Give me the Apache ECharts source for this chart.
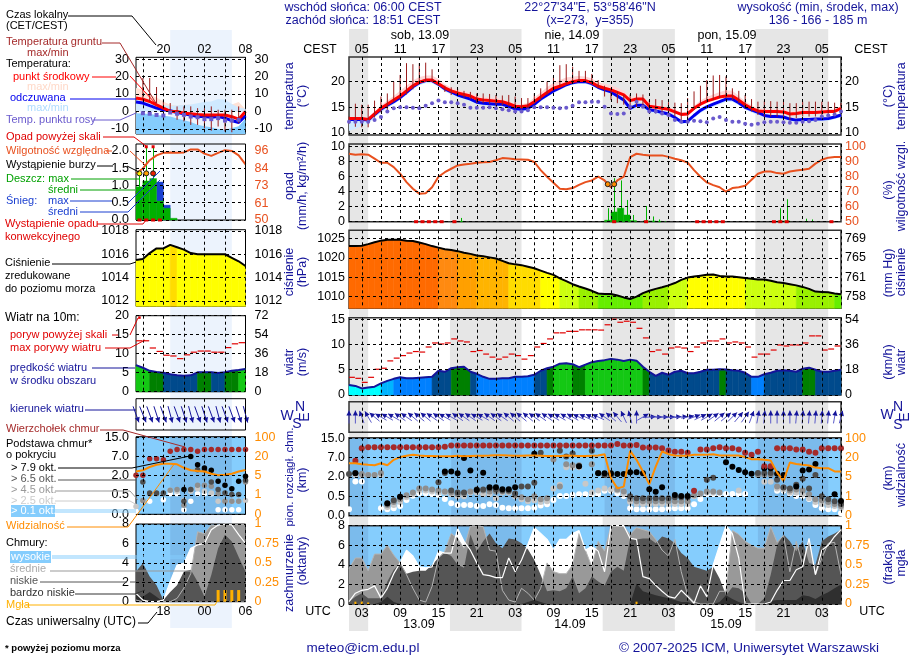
<!DOCTYPE html>
<html>
<head>
<meta charset="utf-8">
<title>meteogram</title>
<script src="https://cdn.jsdelivr.net/npm/echarts@6/dist/echarts.min.js"></script>
<style>
html,body{margin:0;padding:0;background:#fff;}
#main{width:910px;height:660px;}
</style>
</head>
<body>
<div id="main"></div>
<script>
// os czasu UTC, co godzine
var hoursUtc=['01','02','03','04','05','06','07','08','09','10','11','12','13','14','15','16','17','18','19','20','21','22','23',
	'00','01','02','03','04','05','06','07','08','09','10','11','12','13','14','15','16','17','18','19','20','21','22','23',
	'00','01','02','03','04','05','06','07','08','09','10','11','12','13','14','15','16','17','18','19','20','21','22','23',
	'00','01','02','03','04','05','06'];
var leftHoursUtc=['14','15','16','17','18','19','20','21','22','23','00','01','02','03','04','05','06'];
var nightsMain=[[1,4],[16.8,28],[40.7,52],[64.6,76]];
var nightsMainIdx=[[0,3],[16,27],[40,51],[64,75]];
var nightsLeft=[[5,14]];

// temperatura
var tempMid=[12.8,12.8,12.8,12.6,13.7,14.8,15.6,16.4,17.2,18.2,
	19.2,19.9,20.3,20.3,19.6,18.8,18.2,17.8,17.5,17.2,
	16.6,16.4,16.3,16.2,16.1,15.7,15.2,15.1,15.3,16.1,
	17.0,17.9,18.7,19.1,19.6,20.0,20.2,20.2,19.8,19.1,
	18.7,18.4,17.9,17.4,16.3,16.6,16.6,15.2,15.0,14.8,
	14.6,14.1,13.6,13.7,14.8,15.6,16.2,16.6,17.0,17.2,
	17.2,16.4,15.5,14.8,14.3,14.2,14.2,14.2,14.1,13.7,
	13.8,14.0,14.0,14.0,14.1,14.2,14.2,14.8];
var tempFeel=[12.6,12.6,12.6,12.5,13.6,14.6,15.4,16.1,16.9,17.9,
	19.0,19.8,20.2,20.2,19.5,18.6,18.0,17.4,17.0,16.6,
	16.0,15.8,15.7,15.6,15.6,15.2,14.7,14.6,14.8,15.6,
	16.6,17.4,18.2,18.8,19.4,19.8,20.0,20.0,19.6,18.9,
	18.4,18.0,17.2,16.4,14.8,15.4,15.4,14.5,14.3,14.0,
	13.7,13.0,12.2,12.3,13.4,14.4,15.1,15.6,16.1,16.6,
	16.6,15.9,15.0,14.5,14.0,13.4,13.2,13.2,13.1,12.7,
	12.5,12.6,12.6,12.7,12.7,12.8,13.1,13.5];
var tempMax=[13.1,13.1,13.1,13.0,14.2,15.4,16.3,17.2,18.2,19.2,
	20.2,20.9,21.2,21.2,20.5,19.5,18.8,18.4,18.1,17.8,
	17.2,17.0,16.9,16.8,16.6,16.2,15.7,15.6,15.9,16.9,
	17.9,18.9,19.8,20.3,20.8,21.0,21.1,21.0,20.6,19.9,
	19.6,19.3,18.8,18.2,16.9,17.2,17.1,15.7,15.4,15.2,
	15.0,14.5,14.0,14.2,15.3,16.3,17.0,17.5,18.0,18.3,
	18.2,17.2,16.2,15.4,14.8,14.6,14.6,14.6,14.5,14.2,
	14.2,14.4,14.4,14.4,14.5,14.6,14.7,15.2];
var feelMin=[10.4,10.8,11.4,11.8,13.0,14.0,14.8,15.6,16.4,17.4,
	18.5,19.3,19.7,19.7,19.0,18.1,17.5,16.9,16.5,16.1,
	15.6,15.4,15.3,15.2,15.2,14.8,14.3,14.2,14.4,15.2,
	16.2,17.0,17.8,18.4,19.0,19.4,19.6,19.6,19.2,18.5,
	18.0,17.6,16.8,15.9,14.3,14.9,14.9,14.0,13.8,13.5,
	13.2,12.5,11.8,11.9,12.9,13.9,14.6,15.1,15.6,16.1,
	16.1,15.4,14.5,14.0,13.5,13.0,12.9,12.9,12.8,12.3,
	12.1,12.2,12.2,12.3,12.3,12.4,12.7,13.1];
var dewPoint=[12.2,12.2,12.2,12.2,12.5,13.1,14.2,14.8,15.0,15.0,
	14.9,14.8,15.3,15.8,16.3,16.0,16.0,15.8,15.5,14.9,
	14.9,14.9,15.0,14.8,14.6,14.4,14.2,14.2,14.4,15.0,
	15.0,15.0,14.9,14.8,14.9,15.3,16.0,16.0,16.1,16.1,
	15.1,13.8,13.7,13.8,15.1,16.1,15.1,14.2,14.2,13.8,
	13.5,12.5,12.2,12.2,12.4,12.3,12.1,12.8,13.1,12.5,
	12.2,12.2,11.8,11.6,11.8,12.1,12.2,12.2,12.1,12.0,
	12.0,12.2,12.3,12.5,13.2,13.4,13.6,14.2];
var groundMax=[13.2,15.7,15.5,15.5,16.3,17.1,17.7,20,21.3,23.6,
	23.4,23.6,23.7,22.4,20.3,19.2,18.9,18.6,18.2,18,
	17.7,17.7,17.6,17.4,17.3,17.4,17.1,16.8,16.8,17.7,
	18.7,20,21,23.2,23.4,22.9,22.1,22.1,21.5,20.3,
	19.2,18.4,18.1,17.4,17.5,17.7,17.5,16.4,16.6,16.4,
	16,15.9,15.8,16.8,18.1,19.2,20.3,21.2,21.3,21,
	18.7,18.2,17.4,16.6,16.1,16.2,16.2,16.1,16.2,15.8,
	15.8,16.1,16.1,16.1,16.1,16.1,15.9,15.8];
var groundMin=[11.8,11.2,11.1,11.1,13,14,14.5,16,16.5,17.5,
	18.5,19.5,20,20,19.2,18,17.4,17.3,16.8,16.6,
	15.8,15.8,15.6,15.4,15.4,15.2,14.7,14.7,14.9,15.8,
	16.4,17.4,18.3,19,19.4,19.8,20,20,19.6,18.7,
	17.1,16.4,15.8,15.5,14.5,15.1,15.1,14.2,13.8,13.8,
	13.5,13.2,12.2,12.2,14.5,15.5,16.1,16.4,16.8,16.8,
	16.4,15.8,14.8,14.2,13.5,13.2,13.2,13.2,13.2,12.5,
	12.9,13.2,13.2,13.2,13.5,13.5,13.5,13.8];

// opad i wilgotnosc
var humidity=[95.3,94.7,94.9,94.7,92,89.3,89.3,86.4,82,76.4,
	72,68.7,69,73,80,83,85.3,87.5,88.2,88.7,
	89.3,89.6,89.8,91,92.4,92.2,91.7,91.5,91.3,89.8,
	84.4,80,76,72,71.6,72.4,74.6,76.4,77.5,80,
	77.5,72.9,77.5,80,93,95.3,94.7,94.2,94.2,94.2,
	93.2,92,91,89.4,84.4,80,76.2,74.4,73,70,
	72.4,73,74,78,82,83.5,83.5,82.4,82,83.5,
	84.2,84.7,85.3,88.7,91.3,92.7,93.2,93.2];
var rainMean=[[17,0.05],[40,0.2],[41,1.3],[42,1.8],[43,0.9],[44,0.15],[46,0.1],[47,0.1],[48,0.05],[67,0.08],[68,0.1]];
var rainMax=[[17,0.5],[40,1.8],[41,5.8],[42,5.5],[43,2.9],[44,0.9],[46,2.1],[47,0.7],[48,0.3],[49,0.1],[67,1.8],[68,3.0],[71,0.4],[72,0.3]];
var convective=[[10,0],[11,0],[12,0],[13,0],[14,0],[16,0],[41,0],[46,0],[54,0],[55,0],[56,0],[57,0],[58,0],[66,0],[67,0],[68,0],[75,0]];
var storm=[[40,5],[41,5]];

// cisnienie
var pressure=[1023,1023,1023.1,1023.5,1024,1024.4,1024.6,1024.6,1024.6,1024.4,
	1024.3,1023.9,1023.5,1023,1022.6,1022.2,1022,1021.7,1021.3,1021,
	1020.6,1020.4,1020.1,1019.8,1019.2,1018.6,1018.3,1018.1,1017.7,1017.3,
	1016.7,1016.1,1015.6,1014.7,1014,1013.2,1012.6,1012.1,1011.5,1010.8,
	1010.7,1010.7,1010.3,1009.8,1009.4,1010,1010.9,1011.5,1012,1012.4,
	1012.9,1013.5,1014.3,1014.9,1015.2,1015.4,1015.6,1015.7,1015.3,1015.2,
	1015.2,1015,1014.8,1014.6,1014.4,1014.4,1014.1,1013.7,1013.5,1013.2,
	1012.9,1012.5,1012,1011.3,1011.2,1011.1,1010.8,1010.6];

// wiatr
var wind=[2,1.8,1.3,1.5,1.65,2.3,2.8,3.2,3.5,3.3,
	3.3,3.4,3.5,3.6,4.8,4.6,5.3,5.5,5.6,4.6,
	4.2,3.6,3.2,3.2,3.3,3.3,3.6,3.6,3.7,4,
	4.8,5.3,5.6,6.2,6.3,6.1,5.5,6,6.5,6.75,
	6.9,7.15,7,6.75,7,6.8,5.6,4.6,3.8,4.4,
	4,4.6,4.8,4.3,4.3,4.6,5,5,5.1,5.05,
	4.9,4.8,4.4,3.6,3.6,4.1,4.4,4.8,4.9,4.8,
	4.6,5.2,5.4,5,4.6,4.6,4.8,5];
var gust=[3.5,3.3,2.5,3.5,5.1,5.3,6.75,7.3,7.8,8.3,
	8.6,8.5,9.5,10.3,10.1,10.3,11.1,10.7,10.5,8.6,
	8.8,8.1,7.5,7.1,7.5,8.1,7.8,7.1,7.8,9.5,
	10.2,11.1,12.3,12.3,12.6,12.6,12.9,12.9,12.9,12.85,
	13.9,15,14.4,14.6,14.4,13.2,11.3,8.6,8.9,8.1,
	9.3,9.5,9.3,8.6,9.5,10.3,10.7,10.7,11.1,10.3,
	10.5,10.3,9.5,7.5,8.1,8.1,8.9,9.9,9.7,9.9,
	9.9,10.3,11.7,11.7,8.9,9.1,9.7,9.8];
var windDir=[0,0,-20,-30,-50,-60,-60,-60,-55,-55,
	-50,-50,-50,-55,-55,-60,-60,-55,-55,-55,
	-60,-60,-55,-55,-55,-50,-50,-50,-50,-55,
	-55,-55,-60,-60,-60,-60,-65,-65,-65,-65,
	-55,-50,-40,-25,-15,0,60,85,90,90,
	90,85,85,80,70,65,60,55,50,50,
	45,40,35,20,10,5,0,0,0,0,
	5,5,5,5,5,5,10,15];

// chmury - wartosci w jednostkach skali 0.0 / 0.5 / 2.0 / 7.0 / 15.0
var cloudTop=[null,2.83,3.48,3.53,3.53,3.53,3.53,3.53,3.53,3.53,
	3.53,3.53,3.53,3.53,3.53,3.55,3.62,3.62,3.62,3.62,
	3.62,3.62,3.62,3.62,3.62,3.62,3.62,3.62,3.62,3.62,
	3.62,3.62,3.62,3.62,3.62,3.62,3.62,3.62,3.62,3.62,
	3.62,3.62,3.7,3.62,3.62,3.64,3.52,3.52,3.52,3.48,
	3.36,3.29,3.29,3.24,1.28,3.41,3.41,3.48,3.53,3.48,
	3.48,3.41,3.24,3.14,3.29,2.55,2.55,3.48,3.48,3.48,
	3.41,3.41,3.29,3.24,3.48,3.48,3.48,3.48];
var base79=[null,2.19,null,null,null,null,.64,null,.98,null,
	null,null,null,null,null,2.28,2.28,2.19,2.97,2.33,
	1.33,2.22,1.47,1.47,1.36,1.36,1.47,null,null,3.19,
	null,null,null,null,null,null,2.55,null,null,2.19,
	2.19,2.19,2.15,2.15,2.24,2.24,2.19,1.36,1.24,1.47,
	null,1.07,1.02,1.02,null,null,null,null,null,2.76,
	2.52,2.36,2.24,2.16,null,2.45,2.45,2.16,2.1,null,
	1.5,2.33,2.38,2.67,null,null,1.1,.76];
var base65=[2.15,2.2,null,null,null,null,.62,.8,.98,null,
	null,null,null,null,1.72,2.2,1.3,1.2,1.2,null,
	1.35,1.35,1.4,1.35,1.3,1.3,1.15,1.5,1.5,1.7,
	3.25,null,null,3.35,3.05,3.2,2.55,null,3.35,2.2,
	2.1,2.1,null,null,1.0,.9,.9,.9,.9,.9,
	.9,.95,.95,.95,null,null,1.85,1.95,null,null,
	null,null,null,null,2.2,2.2,2.2,1.85,1.45,1.4,
	1.6,1.9,1.4,2.1,1.0,.85,.75,.6];
var base45=[null,null,2.15,2.1,2.1,2.2,.55,.7,.85,1.05,
	1.2,1.4,1.4,1.35,1.3,1.25,1.2,1.1,1.15,1.25,
	1.3,1.3,1.25,1.25,1.25,1.25,1.05,.95,.85,1.0,
	.85,.9,2.9,1.5,2.65,2.6,2.6,null,2.65,2.2,
	2.1,2.1,1.35,1.25,.85,.75,.75,.75,.75,.75,
	.75,.75,.75,.75,1.05,1.15,1.25,1.25,1.2,null,
	null,null,null,null,2.1,2.1,2.1,1.5,1.45,1.3,
	1.35,1.3,1.1,.85,.8,.7,.6,.5];
var base25=[null,2.1,2.1,2.1,2.1,2.1,.45,.55,.7,.95,
	1.1,1.3,1.3,1.25,1.2,1.2,1.1,1.0,1.0,1.2,
	1.2,1.1,1.1,.9,1.2,1.2,1.0,.85,.75,.8,
	.7,.75,1.4,1.6,2.5,2.5,2.5,1.65,1.2,1.3,
	1.4,1.35,1.3,1.1,.7,.6,.6,.6,.6,.6,
	.6,.6,.6,.6,1.0,1.1,1.2,1.2,null,null,
	null,1.3,null,null,null,1.75,1.75,1.4,1.35,1.2,
	1.2,1.1,.9,.7,.6,.55,.5,.4];
var base01=[.33,1.76,1.76,null,null,.38,.33,.38,.5,.81,
	1.03,1.16,1.16,1.12,1.07,.86,.64,.55,.55,.55,
	.5,.5,.59,.55,.41,.38,.38,.38,.38,.41,
	.52,.59,.81,1.02,1.02,1.07,1.1,1.1,1.1,1.12,
	1.28,1.28,1.16,1.02,.38,.33,.33,.33,.33,.33,
	.36,.38,.38,.38,.59,.86,1.12,1.12,1.12,1.12,
	1.12,1.12,1.12,null,null,null,null,1.29,1.29,1.16,
	1.02,1.02,.86,.55,.38,.33,.33,.12];
var visibility=[2.7,2.7,2.65,2.62,2.6,2.7,2.6,2.88,3.02,3.09,
	3.14,3.1,3.08,3.08,3.07,3.07,3.07,3.09,3.07,3.08,
	3.09,3.09,3.1,3.12,3.11,3.1,3.09,3.09,3.1,3.1,
	3.09,3.08,3.08,3.08,3.1,3.09,3.08,3.08,3.09,3.1,
	3.17,1.93,1.41,1.5,3.34,2.88,2.28,1.62,2.53,3.31,
	3.17,3.1,3.09,3.09,3.14,3.14,3.14,3.17,3.1,3.1,
	3.1,3.1,3.02,2.91,2.91,2.88,2.84,2.22,1.79,2.74,
	2.66,2.62,2.59,2.48,2.45,2.45,2.28,2.28];

// zachmurzenie (oktanty)
var cloudHigh=[.24,1.1,1.4,1.5,1.85,.6,1.6,3.1,4.2,5.5,
	4.9,3.8,3.7,3.8,5.4,5.2,5.2,7.7,6.4,5.5,
	4.2,3,2.9,2.7,2.7,4.7,3.3,4.5,6.1,7.8,
	7.2,6.6,5.5,6.6,6.6,7.2,7.5,5.5,5.9,5.4,
	3.3,8,8,8,6.7,6.6,2.8,2.6,1.9,1.3,
	.75,.6,1.4,.75,.07,1.85,.75,4,6,8,
	7.2,4.7,0,0,0,0,.2,1.4,2.4,2.4,
	3.5,3.8,6.7,3,5.5,6,6.9,7.6];
var cloudMid=[3.6,4.7,4.7,3.4,5.1,5.1,6,5,4.2,3,
	1.6,.4,.2,1.8,4.7,5.4,7.2,6.7,5.7,8,
	8,7.9,5.5,5.4,1.4,.4,.2,1.6,1.1,.4,
	1.6,4.2,3.3,3.1,3.1,4,7.2,5.5,3.8,6.4,
	5.4,8,8,7.9,7.1,7.8,7.6,7.4,6.6,5.5,
	4.9,6.6,3.3,.9,.2,0,0,0,1.3,1.3,
	7.5,7.1,6.4,6,5.7,5.7,7.9,6.3,7,3.3,
	6.4,4,6.6,3,4.7,6.2,6.3,3];
var cloudLow=[.24,.75,1.1,.6,.6,.6,2.3,3.5,4.2,3.1,
	3.3,3.4,3.4,4,4.7,5.2,4.9,4,3.7,7.1,
	5.4,6.4,7.2,6.2,5.7,6.7,6.6,6.2,5.6,4.5,
	3,1.3,1.4,1.3,1.6,2.8,1.1,1.6,2.8,2.3,
	1.9,3.3,3.8,3.4,6.7,6.6,6.7,6.7,6.2,6.9,
	6.7,6.2,5.2,4.7,3.8,3.6,3.4,3.8,2.6,.9,
	1.7,1.6,1.1,0,0,.6,3,6,7.1,6.4,
	5.4,6.4,4.2,4,6.4,6.9,7.2,7.6];
var cloudVeryLow=[0,0,0,0,0,.2,.75,.2,0,0,
	0,0,0,0,0,0,0,0,0,0,
	0,0,0,0,0,0,0,0,.2,.4,
	.2,0,0,0,0,0,0,0,0,0,
	0,0,0,0,0,2.1,1.3,1.1,.9,.75,
	.6,.4,.2,.2,0,0,0,0,.2,.9,
	.5,.2,0,0,0,0,.3,.4,.4,.4,
	.4,.9,.8,.5,.9,1.2,1.6,2];
var fog=[[1,.03],[2,.03],[3,.02],[45,.03]];

// maly wykres po lewej (legenda)
var lTemp=[7.7,7,5.7,3.8,1.9,0,0,-1,-1.3,-1.7,-2,-2,-2,-2,-3,-4.4,0];
var lFeel=[5.4,4.8,3.3,1.9,1,.4,-.6,-1.3,-2,-2.9,-2.9,-3.3,-2.9,-3.8,-5.2,-6.3,-2.5];
var lTempMax=[13.4,12.5,9.6,8,5.7,3.8,3.3,2.9,2.6,2.3,2,1,1,1,1,1,1.2];
var lFeelMin=[-1,-1.2,-1.5,-2,-2.4,-2.9,-4,-5,-6,-7.6,-8.5,-9,-10,-10.5,-9.5,-8.5,-4];
var lDew=[null,-1,-1.3,-2,-2.3,-.6,-1.3,-1.9,-2.9,-3.3,-4.4,-4.4,-3.8,-5.2,-5.2,-4.8,null];
var lGroundMax=[null,19.1,19.1,14,6.7,4.8,2.9,2.9,2.9,1.9,1.9,2.9,1,1,1,2.9,null];
var lGroundMin=[null,6.7,5.7,4.8,1.9,0,-4.8,-5.7,-7.7,-7.7,-9.6,-11,-8.6,-11.5,-11.9,-6.7,null];
var lHumidity=[81,84.3,89.8,93,94.7,95,94.7,95,97,97,94.2,92.7,94.7,96.5,96,93,87];
var lRainMean=[[0,.96],[1,1.13],[2,1.2],[3,.55],[4,.34],[5,.05]];
var lSnowMean=[[3,1.1],[4,.43]];
var lRainMax=[[0,1.35],[1,2.1],[2,2.1]];
var lConvective=[[0,0],[1,0],[2,0],[3,0]];
var lStorm=[[0,1.35],[1,1.35],[2,1.35]];
var lOverScale=[[1,2.12],[2,2.12]];
var lPressure=[1015.5,1015.6,1016.1,1016.5,1016.5,1016.8,1016.6,1016.4,1016.1,1016,1016,1016,1016,1016,1015.7,1015.4,1015];
var lWind=[7,6.3,5.5,5.2,5,4.6,4.3,4.2,4.3,5.1,5.15,5.15,4.9,5.15,5.5,5.7,6];
var lGust=[13.4,13.4,11.5,10.6,9.6,9.4,8.7,9.7,10.4,10.7,10.7,10.4,10.4,11.6,12.6,12.9,null];
var lGustOver=[[0,19.5]];
var lWindDir=[160,158,160,162,160,165,160,162,165,160,162,160,165,160,160,162,165];
var lCloudTop=[2.02,2.02,2.88,2.88,2.83,3.26,3.36,3.36,3.36,3.26,3.36,3.36,3.36,3.36,3.36,3.36,3.36];
var lBase79=[null,null,null,null,null,null,null,1.28,3.0,2.57,2.4,2.28,1.71,1.5,1.33,1.71,1.97];
var lBase65=[null,1.67,1.1,1.1,1.1,null,null,.67,1.28,2.31,2.31,1.67,1.28,1.1,1.02,1.02,1.76];
var lBase45=[null,.72,1.07,1.07,1.07,1.24,1.28,.47,1.28,1.5,1.5,1.45,1.07,.67,.67,.67,1.67];
var lBase25=[.41,.67,null,null,null,1.24,1.19,.72,1.19,1.33,1.19,1.1,.67,.67,.67,.67,.72];
var lBase01=[.16,.67,.67,null,.76,1.07,1.07,.24,.67,1.07,1.07,1.07,.24,.24,.24,.24,null];
var lVisibility=[2.22,2.28,2.45,2.57,2.62,2.62,2.59,2.41,2.28,2.24,2.22,2.1,2.02,2.05,2.1,2.22,2.3];
var lHigh=[.86,.17,0,0,.17,2.06,3.78,3.95,5.5,5.84,6,7.4,7.9,8,7.9,6.9,6];
var lMid=[.17,0,0,0,0,0,.34,1.4,2.9,7.2,7,7.9,7.8,8,8,8,8];
var lLow=[3.1,3.95,2.6,1.7,.17,1,1.7,3.1,3.3,2.06,.5,2.75,5.5,6.9,6.2,4.6,3.1];
var lVeryLow=[.7,.5,1,.5,0,0,0,0,0,0,0,0,0,0,0,0,0];
var lFog=[[12,.15],[13,.15],[14,.15],[15,.15]];

// etykiety osi
var baseTicks=[0,1,2,3,4];
var baseLabels=['0.0','0.5','2.0','7.0','15.0'];
var visLabels=['0','1','5','20','100'];
var pressureColors=[[1022.5,'#ff6a00'],[1021.7,'#ff8a10'],[1020.6,'#ffa000'],[1018.7,'#ffb400'],[1016.7,'#ffdc00'],[1014.8,'#ffff00'],[1012.8,'#ccff10'],[1010.9,'#99f000'],[0,'#66ee00']];
var windColors=[[5.85,'#14c814'],[5.06,'#008000'],[4,'#004a8c'],[3.1,'#0080ff'],[1.99,'#00b4ff'],[0,'#00ffff']];

var FONT='"Liberation Sans"';
var BLUE='#14149a';
var ORANGE='#ff8c00';
var grids=[],xAxes=[],yAxes=[],series=[],graphics=[];

function pickColor(table,v){
	for(var i=0;i<table.length;i++){
		if(v>=table[i][0]) return table[i][1];
	}
	return table[table.length-1][1];
}

// panel: grid, os x i dwie osie y
function addPanel(o){
	var p=grids.length;
	var main=o.main;
	grids.push({left:main?349:136,width:main?492:109.5,top:o.top,height:o.bottom-o.top,show:true,
		backgroundColor:o.bg||'transparent',borderColor:main?'#333':'#000',borderWidth:main?1.5:1});
	var every3=main?2:1, label6=main?2:4;
	xAxes.push({type:'category',gridIndex:p,boundaryGap:false,data:main?hoursUtc:leftHoursUtc,z:5,
		position:o.xTop?'top':'bottom',
		axisLine:{show:false},axisTick:{show:false},
		axisLabel:{show:!!(o.xTop||o.xBottom),interval:function(i){return i%6==label6;},color:'#000',fontFamily:FONT,fontSize:12.5,margin:o.xTop?1:3,
			formatter:function(v){
				if(!o.xTop) return v;
				var h=(parseInt(v,10)+2)%24;
				return (h<10?'0':'')+h;
			}},
		splitLine:{show:true,interval:function(i){return i%3==every3;},lineStyle:{type:[3,3],color:'#000',width:1}}});
	yAxes.push(valueAxis(p,'left',o.min,o.max,o.ticks,o.fmt,o.color||'#000',main?4:7,true));
	yAxes.push(valueAxis(p,'right',o.rMin===undefined?o.min:o.rMin,o.rMax===undefined?o.max:o.rMax,o.rTicks||o.ticks,o.rFmt||o.fmt,o.rColor||'#000',main?4:9,false));
	return p;
}

function valueAxis(p,pos,min,max,ticks,fmt,color,margin,split){
	var hasTicks=!!ticks;
	return {type:'value',gridIndex:p,position:pos,min:min,max:max,z:5,
		axisLine:{show:false},
		axisTick:{show:false,customValues:ticks||[]},
		axisLabel:{show:hasTicks,customValues:ticks||[],formatter:fmt||function(v){return ''+v;},color:color,fontFamily:FONT,fontSize:12.5,margin:margin},
		splitLine:{show:split&&hasTicks,lineStyle:{type:[3,3],color:'#000',width:1}}};
}

function lineS(p,data,color,width,right,z){
	series.push({type:'line',xAxisIndex:p,yAxisIndex:2*p+(right?1:0),data:data,showSymbol:false,silent:true,z:z||3,
		lineStyle:{color:color,width:width},itemStyle:{color:color}});
}
function areaS(p,data,color,z){
	series.push({type:'line',xAxisIndex:p,yAxisIndex:2*p,data:data,showSymbol:false,silent:true,z:z||2,
		lineStyle:{width:0},areaStyle:{color:color,opacity:1,origin:'start'}});
}
function bandS(p,lo,hi,color,name){
	var diff=[];
	for(var i=0;i<lo.length;i++){
		diff[i]=hi[i]-lo[i];
	}
	series.push({type:'line',stack:name,xAxisIndex:p,yAxisIndex:2*p,data:lo,showSymbol:false,silent:true,z:2,lineStyle:{width:0}});
	series.push({type:'line',stack:name,xAxisIndex:p,yAxisIndex:2*p,data:diff,showSymbol:false,silent:true,z:2,lineStyle:{width:0},
		areaStyle:{color:color,opacity:1}});
}
function dotsS(p,data,color,size,symbol,z){
	series.push({type:'scatter',xAxisIndex:p,yAxisIndex:2*p,data:data,symbol:symbol||'circle',symbolSize:size,silent:true,z:z||3,
		itemStyle:{color:color,opacity:1}});
}
function customS(p,right,data,render,z){
	series.push({type:'custom',xAxisIndex:p,yAxisIndex:2*p+(right?1:0),data:data,renderItem:render,silent:true,z:z||2,encode:{x:0,y:1}});
}
function pairsOf(values){
	var out=[];
	for(var i=0;i<values.length;i++){
		if(values[i]!=null) out.push([i,values[i]]);
	}
	return out;
}

// kolorowe kolumny pod krzywa (cisnienie, wiatr)
function columnsS(p,values,table){
	customS(p,false,pairsOf(values),function(params,api){
		var i=api.value(0);
		if(i>=values.length-1) return;
		var a=api.coord([i,values[i]]),b=api.coord([i+1,values[i+1]]);
		var y0=params.coordSys.y+params.coordSys.height;
		var c=pickColor(table,(values[i]+values[i+1])/2);
		return {type:'polygon',shape:{points:[[a[0],a[1]],[b[0],b[1]],[b[0],y0],[a[0],y0]]},
			style:{fill:c,stroke:c,lineWidth:0.6}};
	});
}
// slupek na szerokosc godziny
function stepBarsS(p,pairs,color,z){
	customS(p,false,pairs,function(params,api){
		var a=api.coord([api.value(0),api.value(1)]),b=api.coord([api.value(0)+1,0]);
		var y0=params.coordSys.y+params.coordSys.height;
		return {type:'rect',shape:{x:a[0],y:a[1],width:b[0]-a[0],height:y0-a[1]},style:{fill:color,stroke:color,lineWidth:0.4}};
	},z);
}
// cienka linia w srodku godziny
function stemsS(p,pairs,color,z){
	customS(p,false,pairs,function(params,api){
		var a=api.coord([api.value(0),api.value(1)]),b=api.coord([api.value(0)+1,0]);
		var y0=params.coordSys.y+params.coordSys.height;
		var x=Math.round((a[0]+b[0])/2)+0.5;
		return {type:'line',shape:{x1:x,y1:a[1],x2:x,y2:y0},style:{stroke:color,lineWidth:1}};
	},z);
}
// porywy: krotka kreska na godzine
function dashesS(p,values,color){
	customS(p,false,pairsOf(values),function(params,api){
		var a=api.coord([api.value(0),api.value(1)]),b=api.coord([api.value(0)+1,0]);
		if(api.value(0)>=values.length-1) return;
		return {type:'line',shape:{x1:a[0],y1:a[1],x2:b[0]-0.5,y2:a[1]},style:{stroke:color,lineWidth:1.2}};
	},4);
}
// znaczniki w srodku godziny
function marksS(p,pairs,w,h,fill,stroke,round){
	customS(p,false,pairs,function(params,api){
		var a=api.coord([api.value(0),api.value(1)]),b=api.coord([api.value(0)+1,0]);
		var x=(a[0]+b[0])/2;
		if(round){
			return {type:'circle',shape:{cx:x,cy:a[1],r:w/2},style:{fill:fill,stroke:stroke,lineWidth:1}};
		}
		return {type:'rect',shape:{x:x-w/2,y:a[1]-h/2,width:w,height:h},style:{fill:fill}};
	},6);
}
function rangeS(p,lo,hi,color){
	var data=[];
	for(var i=0;i<hi.length;i++){
		if(hi[i]!=null) data.push([i,hi[i],lo[i]]);
	}
	series.push({type:'custom',xAxisIndex:p,yAxisIndex:2*p,data:data,silent:true,z:4,encode:{x:0,y:[1,2]},
		renderItem:function(params,api){
			var a=api.coord([api.value(0),api.value(1)]),b=api.coord([api.value(0),api.value(2)]);
			return {type:'line',shape:{x1:a[0],y1:a[1],x2:b[0],y2:b[1]},style:{stroke:color,lineWidth:1}};
		}});
}
// kierunek wiatru, strzalki
function arrowsS(p,dirs,half,tailColor){
	customS(p,false,pairsOf(dirs).map(function(d){return [d[0],0,d[1]];}),function(params,api){
		var c=api.coord([api.value(0),0]);
		var a=api.value(2)*Math.PI/180;
		var dx=Math.sin(a),dy=-Math.cos(a);
		var hx=c[0]+half*dx,hy=c[1]+half*dy;
		return {type:'group',children:[
			{type:'line',shape:{x1:c[0]-half*dx,y1:c[1]-half*dy,x2:hx,y2:hy},style:{stroke:tailColor,lineWidth:1}},
			{type:'polygon',shape:{points:[[hx,hy],[hx-5*dx-2.6*dy,hy-5*dy+2.6*dx],[hx-5*dx+2.6*dy,hy-5*dy-2.6*dx]]},style:{fill:'#14149a'}}
		]};
	},4);
}
function fogS(p,pairs,w){
	customS(p,true,pairs,function(params,api){
		var a=api.coord([api.value(0),api.value(1)]);
		var y0=params.coordSys.y+params.coordSys.height;
		return {type:'rect',shape:{x:a[0]-w/2,y:a[1],width:w,height:y0-a[1]},style:{fill:'#ffb000'}};
	},4);
}
// ciemniejsza noc na niebieskim tle
function nightOverlayS(p,ranges){
	var d=[];
	for(var i=0;i<ranges.length;i++){
		d.push([{xAxis:ranges[i][0]},{xAxis:ranges[i][1]}]);
	}
	series.push({type:'line',xAxisIndex:p,yAxisIndex:2*p,data:[],silent:true,
		markArea:{silent:true,z:1,itemStyle:{color:'rgba(60,70,120,0.13)'},data:d}});
}
function bgBands(left,width,top,bottom,xMin,xMax,ranges,color){
	var p=grids.length,d=[],i;
	grids.push({left:left,width:width,top:top,height:bottom-top,show:false});
	xAxes.push({type:'value',gridIndex:p,min:xMin,max:xMax,show:false});
	yAxes.push({type:'value',gridIndex:p,min:0,max:1,show:false});
	yAxes.push({type:'value',gridIndex:p,min:0,max:1,show:false});
	for(i=0;i<ranges.length;i++){
		d.push([{xAxis:ranges[i][0]},{xAxis:ranges[i][1]}]);
	}
	series.push({type:'line',xAxisIndex:p,yAxisIndex:2*p,data:[[xMin,0]],showSymbol:false,silent:true,z:-1,
		markArea:{silent:true,z:-1,itemStyle:{color:color},data:d}});
}

function plainFmt(v){return ''+v;}
function pressureFmt(v){return ''+Math.round(v*0.75006);}
function baseFmt(v){return baseLabels[v];}
function visFmt(v){return visLabels[v];}
function oneDec(v){return v.toFixed(1);}

// ---- tlo: pasy nocy ----
bgBands(349,492,29,631,1,78,nightsMain,'#e6e6e6');
bgBands(136,109.5,30,628,0,16,nightsLeft,'#ecf3fd');

// ---- wykres glowny ----
var p;
p=addPanel({main:true,top:57,bottom:135,min:9.6,max:24.8,ticks:[10,15,20],xTop:true});
bandS(p,tempMid,tempMax,'#ffd6d6','tMax');
bandS(p,feelMin,tempFeel,'#cfe9ff','tMin');
rangeS(p,groundMin,groundMax,'#9b1c1c');
lineS(p,tempFeel,'#0000ee',3,false,3);
lineS(p,tempMid,'#ff0000',3,false,3);
dotsS(p,dewPoint,'#6a5acd',4,'circle',5);

p=addPanel({main:true,top:144,bottom:221.7,min:0,max:10.36,ticks:[0,2,4,6,8,10],rMin:50,rMax:101.8,rTicks:[50,60,70,80,90,100],rColor:'#e8501e'});
stemsS(p,rainMax,'#00b000',3);
stepBarsS(p,rainMean,'#00b000',3);
lineS(p,humidity,'#e8501e',2,true,4);
marksS(p,convective,4,3,'#e00000');
marksS(p,storm,5,5,'#ff8c00','#222',true);

p=addPanel({main:true,top:230.3,bottom:308.3,min:1007,max:1027.06,ticks:[1010,1015,1020,1025],rFmt:pressureFmt});
columnsS(p,pressure,pressureColors);
lineS(p,pressure,'#000',2,false,4);

p=addPanel({main:true,top:317.7,bottom:395,min:0,max:15.3,ticks:[0,5,10,15],rMin:0,rMax:55.1,rTicks:[0,18,36,54]});
columnsS(p,wind,windColors);
lineS(p,wind,'#14149a',2,false,4);
dashesS(p,gust,'#e00000');

p=addPanel({main:true,top:401.7,bottom:432.3,min:-1,max:1});
arrowsS(p,windDir,6.5,'#5a5ac8');

p=addPanel({main:true,top:437.7,bottom:515.7,bg:'#85cdfd',min:0,max:4.02,ticks:baseTicks,fmt:baseFmt,rFmt:visFmt,rColor:ORANGE});
nightOverlayS(p,nightsMainIdx);
dotsS(p,base01,'#ffffff',6);
dotsS(p,base25,'#c8c8c8',6);
dotsS(p,base45,'#8f8f8f',6);
dotsS(p,base65,'#4d4d4d',6);
dotsS(p,base79,'#000000',6);
dotsS(p,cloudTop,'#a52a2a',6);
lineS(p,visibility,ORANGE,2,false,4);

p=addPanel({main:true,top:525.7,bottom:604,bg:'#85cdfd',min:0,max:8,ticks:[0,2,4,6,8],rMin:0,rMax:1,rTicks:[0,0.25,0.5,0.75,1],rFmt:plainFmt,rColor:ORANGE,xBottom:true});
nightOverlayS(p,nightsMainIdx);
areaS(p,cloudHigh,'#ffffff',2);
areaS(p,cloudMid,'#999999',2);
areaS(p,cloudLow,'#555555',2);
areaS(p,cloudVeryLow,'#2f2f2f',2);
lineS(p,cloudMid,'#b4b4b4',1,false,3);
lineS(p,cloudHigh,'#ffffff',1.2,false,3);
fogS(p,fog,2);

// ---- maly wykres z legenda ----
p=addPanel({top:57.3,bottom:134,min:-12.9,max:31,ticks:[-10,0,10,20,30],xTop:true});
areaS(p,lFeelMin,'#85cdfd',2);
bandS(p,lTemp,lTempMax,'#ffe2d6','ltMax');
bandS(p,lFeelMin,lFeel,'#cfe9ff','ltMin');
rangeS(p,lGroundMin,lGroundMax,'#9b1c1c');
lineS(p,lFeel,'#0000ee',3,false,3);
lineS(p,lTemp,'#ff0000',3,false,3);
dotsS(p,lDew,'#6a5acd',4,'rect',5);

p=addPanel({top:144,bottom:220,min:0,max:2.2,ticks:[0,0.5,1,1.5,2],fmt:oneDec,rMin:50,rMax:100.6,rTicks:[50,61,73,84,96],rFmt:plainFmt,rColor:'#e8501e'});
stepBarsS(p,lSnowMean,'#1a3fd0',3);
stepBarsS(p,lRainMean,'#00b000',3);
stemsS(p,lRainMax,'#00b000',4);
lineS(p,lHumidity,'#e8501e',2,true,4);
marksS(p,lConvective,4,3,'#e00000');
marksS(p,[lStorm[0]],5,5,'#ffee00','#222',true);
marksS(p,[lStorm[1]],5,5,'#ffa000','#222',true);
marksS(p,[lStorm[2]],5,5,'#ee2000','#222',true);
marksS(p,lOverScale,3,3,'#e00000');

p=addPanel({top:229.7,bottom:306.3,min:1011.55,max:1018.1,ticks:[1012,1014,1016,1018]});
columnsS(p,lPressure,pressureColors);
lineS(p,lPressure,'#000',2,false,4);

p=addPanel({top:315.7,bottom:391.7,min:0,max:20,ticks:[0,5,10,15,20],rMin:0,rMax:72,rTicks:[0,18,36,54,72]});
columnsS(p,lWind,windColors);
lineS(p,lWind,'#14149a',2,false,4);
dashesS(p,lGust,'#e00000');
marksS(p,lGustOver,2.5,2.5,'#e00000');

p=addPanel({top:398.7,bottom:430,min:-1,max:1});
arrowsS(p,lWindDir,8.5,'#14149a');

p=addPanel({top:436.7,bottom:514.3,bg:'#85cdfd',min:0,max:4.02,ticks:baseTicks,fmt:baseFmt,rFmt:visFmt,rColor:ORANGE});
nightOverlayS(p,[[5,14]]);
dotsS(p,lBase01,'#ffffff',5.5);
dotsS(p,lBase25,'#c8c8c8',5.5);
dotsS(p,lBase45,'#8f8f8f',5.5);
dotsS(p,lBase65,'#4d4d4d',5.5);
dotsS(p,lBase79,'#000000',5.5);
dotsS(p,lCloudTop,'#a52a2a',5.5);
lineS(p,lVisibility,ORANGE,2,false,4);

p=addPanel({top:524,bottom:601.7,bg:'#85cdfd',min:0,max:8,ticks:[0,2,4,6,8],rMin:0,rMax:1,rTicks:[0,0.25,0.5,0.75,1],rFmt:plainFmt,rColor:ORANGE,xBottom:true});
nightOverlayS(p,[[5,14]]);
areaS(p,lHigh,'#ffffff',2);
areaS(p,lMid,'#999999',2);
areaS(p,lLow,'#555555',2);
areaS(p,lVeryLow,'#2f2f2f',2);
lineS(p,lMid,'#b4b4b4',1,false,3);
lineS(p,lHigh,'#ffffff',1.2,false,3);
fogS(p,lFog,3);

// ---- teksty ----
function text(x,y,s,color,align,rot,font){
	graphics.push({type:'text',x:x,y:y,z:30,rotation:rot?Math.PI/2:0,silent:true,
		style:{text:s,fill:color||'#000',font:font||('12.5px '+FONT),textAlign:align||'left',textVerticalAlign:'middle'}});
}
function vtext(x,y,s,font){
	text(x,y,s,BLUE,'center',true,font);
}
// napis legendy, mniejszy
function note(x,y,s,color){
	text(x,y,s,color,'left',false,'11px '+FONT);
}
function leader(points,color,width){
	graphics.push({type:'polyline',z:25,silent:true,shape:{points:points},style:{stroke:color,lineWidth:width||1,fill:null}});
}
function box(x,y,w,h,color){
	graphics.push({type:'rect',z:24,silent:true,shape:{x:x,y:y,width:w,height:h},style:{fill:color}});
}

text(363,8,'wschód słońca: 06:00 CEST',BLUE,'center');
text(363,21,'zachód słońca: 18:51 CEST',BLUE,'center');
text(590,8,'22°27\'34"E, 53°58\'46"N',BLUE,'center');
text(590,21,'(x=273,  y=355)',BLUE,'center');
text(818,8,'wysokość (min, środek, max)',BLUE,'center');
text(818,21,'136 - 166 - 185 m',BLUE,'center');

text(420,36,'sob, 13.09','#000','center');
text(572,36,'nie, 14.09','#000','center');
text(727,36,'pon, 15.09','#000','center');
text(320,50,'CEST','#000','center');
text(871,50,'CEST','#000','center');
text(318,612,'UTC','#000','center');
text(872,612,'UTC','#000','center');
text(419,625,'13.09','#000','center');
text(570,625,'14.09','#000','center');
text(726,625,'15.09','#000','center');

vtext(290,96,'temperatura');
vtext(303,96,'(°C)');
vtext(290,186,'opad');
vtext(303,186,'(mm/h, kg/m²/h)');
vtext(290,272,'ciśnienie');
vtext(303,272,'(hPa)');
vtext(290,362,'wiatr');
vtext(303,362,'(m/s)');
vtext(290,477,'pion. rozciągł. chm.','11.5px '+FONT);
vtext(303,480,'(km)');
vtext(290,573,'zachmurzenie');
vtext(303,561,'(oktanty)');

vtext(902,96,'temperatura');
vtext(889,96,'(°C)');
vtext(902,186,'wilgotność wzgl.');
vtext(889,190,'(%)');
vtext(902,272,'ciśnienie');
vtext(889,273,'(mm Hg)');
vtext(902,362,'wiatr');
vtext(889,362,'(km/h)');
vtext(902,475,'widzialność');
vtext(889,478,'(km)');
vtext(902,563,'mgła');
vtext(889,562,'(frakcja)');

// roza wiatrow
var roseFont='14px '+FONT;
text(887,415,'W',BLUE,'center',false,roseFont);
text(898,407,'N',BLUE,'center',false,roseFont);
text(898,425,'S',BLUE,'center',false,roseFont);
text(905,417,'E',BLUE,'center',true,roseFont);
text(287,416,'W',BLUE,'center',false,roseFont);
text(300,407,'N',BLUE,'center',false,roseFont);
text(297,424,'S',BLUE,'center',false,roseFont);
text(305,417,'E',BLUE,'center',true,roseFont);

text(363,648,'meteo@icm.edu.pl',BLUE,'center',false,'13.5px '+FONT);
text(749,648,'© 2007-2025 ICM, Uniwersytet Warszawski',BLUE,'center',false,'13.5px '+FONT);
text(5,648,'* powyżej poziomu morza','#000','left',false,'bold 9.5px '+FONT);

// legenda po lewej
note(6,15,'Czas lokalny');
note(6,26,'(CET/CEST)');
leader([[68,16],[132,16],[156,45]],'#000');
note(6,42,'Temperatura gruntu','#a52a2a');
note(27,53,'max/min','#a52a2a');
leader([[102,43],[120,43],[157,105]],'#a52a2a');
note(6,64,'Temperatura:');
note(13,77,'punkt środkowy','#ff0000');
leader([[92,77],[116,77]],'#ff0000');
leader([[130,76],[157,105]],'#ff0000');
note(27,87,'max/min','#ffd9c8');
note(10,98,'odczuwana','#0000ee');
leader([[70,99],[136,99]],'#0000ee');
note(27,108,'max/min','#aedcff');
note(6,120,'Temp. punktu rosy','#6a5acd');
leader([[93,120],[120,120],[136,113]],'#6a5acd');
note(6,137,'Opad powyżej skali','#e00000');
leader([[103,137],[134,137],[146,146]],'#e00000');
note(6,151,'Wilgotność względna','#e8501e');
leader([[106,151],[112,151]],'#e8501e');
leader([[130,151],[145,165]],'#e8501e');
note(6,165,'Wystąpienie burzy');
leader([[97,166],[113,166]],'#000');
leader([[127,166],[139,172]],'#000');
note(6,179,'Deszcz: max','#00a000');
leader([[71,179],[139,179]],'#00a000');
note(48,190,'średni','#00a000');
leader([[80,190],[135,190]],'#00a000');
note(6,201,'Śnieg:','#1a3fd0');
note(48,201,'max','#1a3fd0');
leader([[70,201],[112,201]],'#1a3fd0');
leader([[128,203],[160,171]],'#1a3fd0');
note(48,212,'średni','#1a3fd0');
leader([[80,212],[128,212],[160,180]],'#1a3fd0');
note(5,224,'Wystąpienie opadu','#e00000');
leader([[97,224],[143,224],[146,220]],'#e00000');
note(5,237,'konwekcyjnego','#e00000');
note(5,263,'Ciśnienie');
note(5,276,'zredukowane');
note(5,289,'do poziomu morza');
leader([[52,264],[130,264],[136,262]],'#000');
text(5,318,'Wiatr na 10m:','#000','left',false,'12px '+FONT);
note(10,335,'poryw powyżej skali','#e00000');
leader([[112,335],[118,335]],'#e00000');
leader([[130,335],[138,318]],'#e00000');
note(10,348,'max porywy wiatru','#e00000');
leader([[105,348],[130,348],[145,340]],'#e00000');
note(10,368,'prędkość wiatru',BLUE);
note(10,381,'w środku obszaru',BLUE);
leader([[92,368],[135,368]],BLUE);
note(10,409,'kierunek wiatru',BLUE);
leader([[85,410],[136,410]],BLUE);
note(6,429,'Wierzchołek chmur','#a52a2a');
leader([[100,430],[123,430],[185,447]],'#a52a2a');
note(6,444,'Podstawa chmur*');
note(6,455,'o pokryciu');
note(11,468,'> 7.9 okt.');
leader([[58,468],[132,468],[190,456]],'#000');
note(11,479,'> 6.5 okt.','#555');
leader([[58,480],[136,480]],'#555');
note(11,490,'> 4.5 okt.','#999');
leader([[55,491],[130,491],[138,500]],'#999');
note(11,501,'> 2.5 okt.','#ccc');
leader([[55,501],[130,501],[137,505]],'#ccc');
box(11,505,44,12,'#85cdfd');
note(11,511,'> 0.1 okt.','#fff');
leader([[55,510],[136,510]],'#85cdfd');
leader([[55,512],[136,512]],'#85cdfd');
note(6,526,'Widzialność',ORANGE);
leader([[67,527],[128,527],[175,463]],ORANGE);
note(6,543,'Chmury:');
box(10,551,41,12,'#85cdfd');
note(11,557,'wysokie','#fff');
leader([[52,556],[186,556]],'#85cdfd');
leader([[52,558],[186,558]],'#85cdfd');
note(10,569,'średnie','#aaa');
leader([[50,571],[195,571]],'#999');
note(10,581,'niskie','#555');
leader([[40,582],[127,582]],'#555');
leader([[130,582],[136,582]],'#555');
note(10,593,'bardzo niskie','#333');
leader([[75,594],[135,594],[145,590]],'#333');
note(6,605,'Mgła','#ffb000');
leader([[26,605],[215,605],[219,598]],'#ffb000');
text(6,622,'Czas uniwersalny (UTC)','#000','left',false,'12px '+FONT);
leader([[138,623],[148,623],[157,612]],'#000');

var myChart=echarts.init(document.getElementById('main'));
var option={
	animation:false,
	backgroundColor:'#fff',
	grid:grids,
	xAxis:xAxes,
	yAxis:yAxes,
	series:series,
	graphic:graphics
};
myChart.setOption(option);
</script>
</body>
</html>
